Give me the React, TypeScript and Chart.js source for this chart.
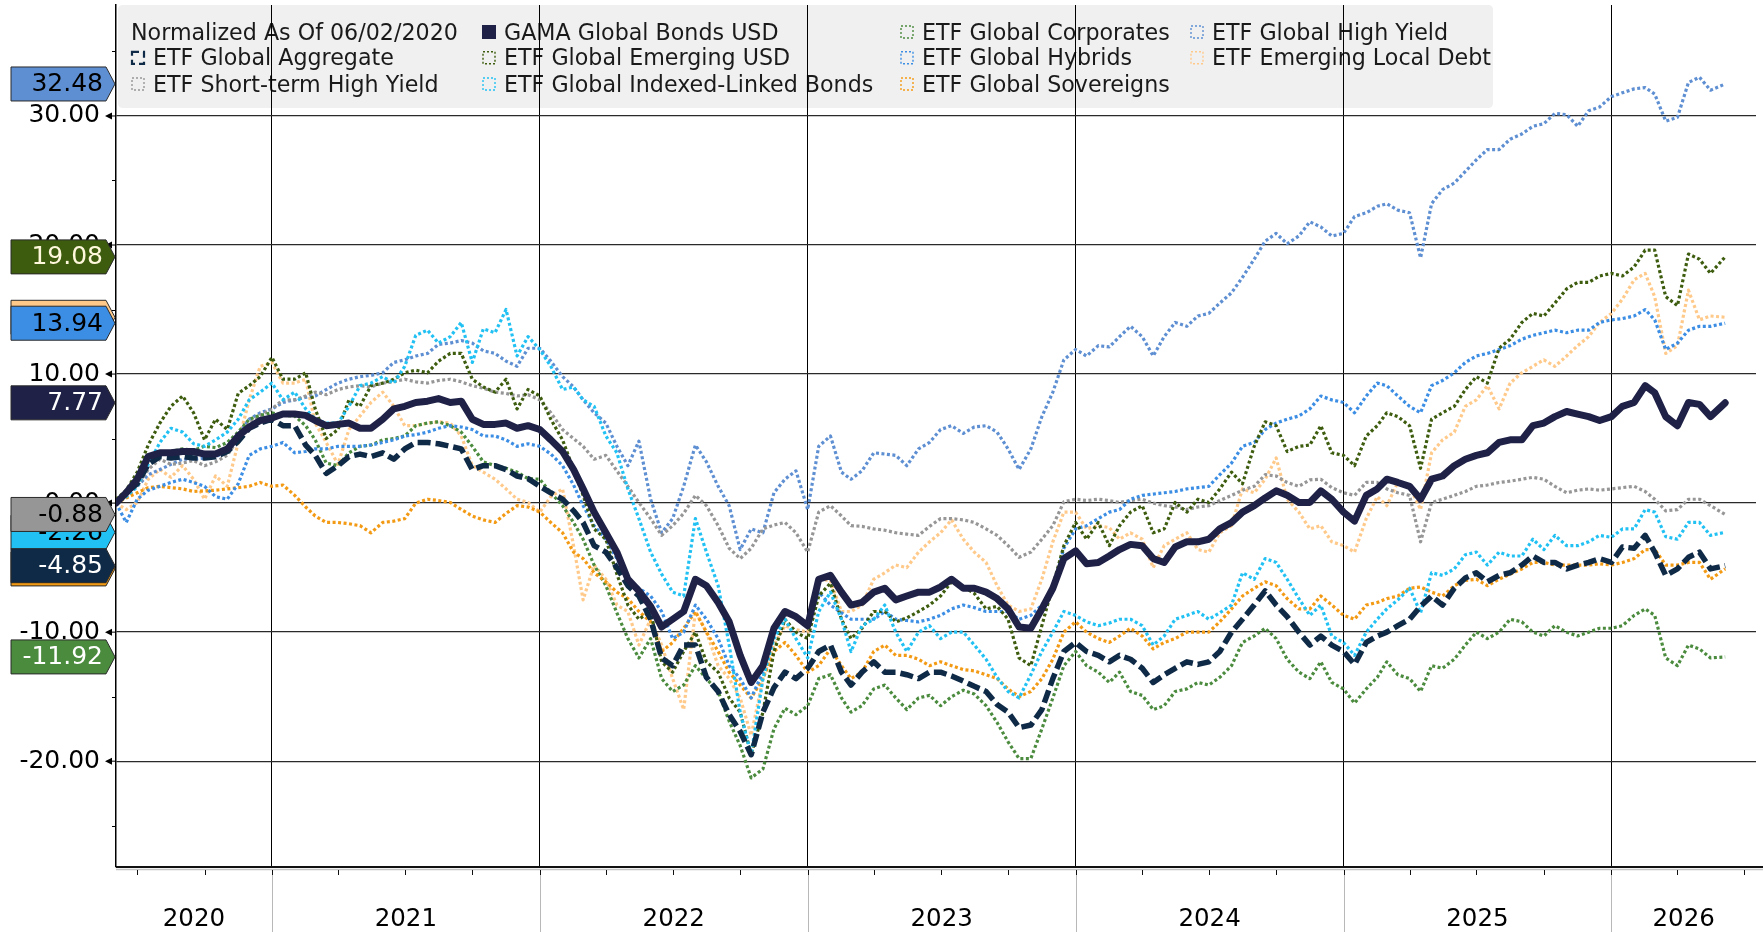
import React, { useEffect, useRef } from "react";
import { Chart, registerables } from "chart.js";
Chart.register(...registerables);

// ---------- categories (dates, semi-monthly) ----------
const DATES = [
  "2020-06-02","2020-06-16","2020-07-01","2020-07-16","2020-08-01","2020-08-16","2020-09-01","2020-09-16","2020-10-01","2020-10-16","2020-11-01","2020-11-16","2020-12-01","2020-12-16",
  "2021-01-01","2021-01-16","2021-02-01","2021-02-16","2021-03-01","2021-03-16","2021-04-01","2021-04-16","2021-05-01","2021-05-16","2021-06-01","2021-06-16","2021-07-01","2021-07-16","2021-08-01","2021-08-16","2021-09-01","2021-09-16","2021-10-01","2021-10-16","2021-11-01","2021-11-16","2021-12-01","2021-12-16",
  "2022-01-01","2022-01-16","2022-02-01","2022-02-16","2022-03-01","2022-03-16","2022-04-01","2022-04-16","2022-05-01","2022-05-16","2022-06-01","2022-06-16","2022-07-01","2022-07-16","2022-08-01","2022-08-16","2022-09-01","2022-09-16","2022-10-01","2022-10-16","2022-11-01","2022-11-16","2022-12-01","2022-12-16",
  "2023-01-01","2023-01-16","2023-02-01","2023-02-16","2023-03-01","2023-03-16","2023-04-01","2023-04-16","2023-05-01","2023-05-16","2023-06-01","2023-06-16","2023-07-01","2023-07-16","2023-08-01","2023-08-16","2023-09-01","2023-09-16","2023-10-01","2023-10-16","2023-11-01","2023-11-16","2023-12-01","2023-12-16",
  "2024-01-01","2024-01-16","2024-02-01","2024-02-16","2024-03-01","2024-03-16","2024-04-01","2024-04-16","2024-05-01","2024-05-16","2024-06-01","2024-06-16","2024-07-01","2024-07-16","2024-08-01","2024-08-16","2024-09-01","2024-09-16","2024-10-01","2024-10-16","2024-11-01","2024-11-16","2024-12-01","2024-12-16",
  "2025-01-01","2025-01-16","2025-02-01","2025-02-16","2025-03-01","2025-03-16","2025-04-01","2025-04-16","2025-05-01","2025-05-16","2025-06-01","2025-06-16","2025-07-01","2025-07-16","2025-08-01","2025-08-16","2025-09-01","2025-09-16","2025-10-01","2025-10-16","2025-11-01","2025-11-16","2025-12-01","2025-12-16",
  "2026-01-01","2026-01-16","2026-02-01","2026-02-16","2026-03-01","2026-03-16","2026-04-01","2026-04-16","2026-05-01","2026-05-16","2026-06-05",
];
const X_AXIS_END = "2026-07-17";

// ---------- series values (normalized, %) ----------
const GAMA = [
  0.0, 0.8, 1.85, 3.6, 3.9, 3.9, 4.0, 4.0, 3.8, 3.8, 4.2, 5.2, 5.9, 6.4,
  6.6, 6.9, 6.9, 6.8, 6.4, 6.0, 6.1, 6.2, 5.8, 5.8, 6.5, 7.3, 7.5, 7.8, 7.9, 8.1, 7.8, 7.9, 6.5, 6.1, 6.1, 6.2, 5.8, 6.0,
  5.7, 4.9, 4.0, 2.6, 1.1, -0.7, -2.3, -3.8, -5.9, -6.8, -8.0, -9.6, -9.0, -8.4, -5.9, -6.4, -7.7, -9.2, -11.8, -13.9, -12.6, -9.7, -8.4, -8.8,
  -9.5, -5.9, -5.6, -6.9, -7.9, -7.7, -6.9, -6.6, -7.5, -7.2, -6.9, -6.9, -6.5, -5.9, -6.6, -6.6, -6.9, -7.4, -8.2, -9.6, -9.7, -8.2, -6.6, -4.3,
  -3.7, -4.7, -4.6, -4.1, -3.6, -3.2, -3.3, -4.3, -4.6, -3.4, -3.0, -3.0, -2.8, -2.0, -1.5, -0.7, -0.2, 0.4, 0.95, 0.6, 0.05, 0.05, 0.95, 0.3,
  -0.7, -1.4, 0.6, 1.1, 1.85, 1.6, 1.3, 0.3, 1.85, 2.1, 2.9, 3.4, 3.7, 3.9, 4.7, 4.9, 4.9, 6.0, 6.2, 6.7, 7.1, 6.9, 6.7, 6.4,
  6.7, 7.5, 7.8, 9.1, 8.55, 6.7, 6.0, 7.8, 7.65, 6.7, 7.77,
];
const AGGREGATE = [
  0.0, 0.8, 1.5, 3.0, 3.6, 3.5, 3.6, 3.5, 3.5, 3.6, 4.0, 4.8, 5.8, 6.2,
  6.5, 6.0, 6.0, 4.5, 3.7, 2.3, 2.9, 3.6, 3.8, 3.6, 3.9, 3.4, 4.2, 4.7, 4.7, 4.6, 4.4, 4.2, 2.6, 2.9, 2.9, 2.6, 2.1, 1.9,
  1.3, 0.8, 0.3, -0.6, -1.5, -3.3, -3.8, -5.0, -6.4, -7.2, -9.0, -12.0, -12.6, -11.0, -11.0, -13.5, -14.6, -16.4, -17.7, -19.5, -16.2, -14.3, -13.1, -13.6,
  -12.8, -11.5, -11.0, -13.1, -14.1, -13.1, -12.3, -13.1, -13.1, -13.3, -13.6, -13.1, -13.1, -13.4, -13.8, -14.2, -14.6, -15.6, -16.2, -17.4, -17.2, -16.0, -13.6, -11.5,
  -10.8, -11.5, -11.8, -12.3, -11.8, -12.1, -12.8, -13.9, -13.3, -12.8, -12.3, -12.5, -12.3, -11.5, -10.0, -9.0, -7.9, -6.8, -7.9, -8.8, -10.0, -11.0, -10.3, -11.0,
  -11.5, -12.5, -10.8, -10.3, -10.0, -9.5, -9.0, -8.0, -7.2, -7.9, -6.6, -5.8, -5.4, -6.1, -5.6, -5.4, -4.8, -4.1, -4.6, -4.6, -5.1, -4.8, -4.6, -4.3,
  -4.6, -3.4, -3.5, -2.5, -3.8, -5.6, -5.1, -4.2, -3.8, -5.1, -4.85,
];
const SHORT_TERM_HY = [
  0.0, 0.5, 1.3, 2.6, 3.4, 3.0, 3.1, 3.3, 2.9, 3.2, 3.7, 5.0, 6.2, 6.8,
  7.3, 8.0, 8.0, 8.3, 8.6, 8.4, 8.8, 9.0, 9.1, 9.0, 9.3, 9.4, 9.6, 9.4, 9.3, 9.5, 9.6, 9.4, 9.1, 8.9, 8.6, 8.5, 8.3, 8.4,
  8.0, 7.0, 5.7, 5.0, 4.4, 3.4, 3.7, 2.5, 1.3, 0.05, -1.2, -2.5, -1.75, -0.8, 0.6, -0.2, -1.75, -3.5, -4.3, -3.5, -2.0, -1.7, -1.5, -2.3,
  -3.8, -0.7, -0.2, -1.0, -1.75, -1.8, -2.0, -2.1, -2.3, -2.4, -2.5, -1.8, -1.2, -1.2, -1.3, -1.5, -2.0, -2.5, -3.3, -4.2, -3.8, -2.8, -1.75, 0.1,
  0.3, 0.2, 0.3, 0.2, 0.05, 0.2, 0.3, 0.0, -0.2, -0.3, -0.5, -0.3, -0.2, 0.2, 0.6, 1.0, 1.3, 2.2, 2.1, 1.6, 1.3, 1.8, 1.85, 1.2,
  0.8, 0.6, 1.6, 1.6, 1.1, 0.8, 0.6, -3.0, 0.05, 0.3, 0.6, 0.9, 1.3, 1.4, 1.6, 1.7, 1.85, 2.0, 1.85, 1.3, 0.8, 1.0, 1.1, 1.0,
  1.1, 1.2, 1.3, 0.9, 0.3, -0.6, -0.5, 0.3, 0.3, -0.2, -0.88,
];
const EMERGING_USD = [
  0.3, 1.0, 2.4, 4.5, 6.2, 7.5, 8.3, 7.0, 4.9, 6.5, 5.7, 8.5, 9.1, 9.8,
  11.3, 9.6, 9.6, 10.1, 7.3, 5.0, 5.7, 8.0, 7.5, 9.1, 9.3, 9.6, 10.1, 10.3, 10.1, 11.0, 11.6, 11.6, 9.6, 9.0, 8.6, 9.6, 7.3, 8.8,
  8.3, 6.5, 4.9, 2.6, 0.6, -2.0, -2.8, -5.5, -7.9, -9.0, -8.4, -12.3, -13.1, -11.5, -10.0, -12.3, -13.1, -15.1, -16.2, -19.5, -16.2, -11.5, -9.0, -10.0,
  -10.5, -7.2, -6.2, -9.0, -10.5, -9.7, -8.4, -8.4, -9.2, -8.9, -8.4, -7.9, -7.2, -6.1, -6.5, -7.0, -8.2, -8.0, -9.0, -12.0, -12.6, -9.5, -6.4, -3.3,
  -1.5, -2.8, -1.5, -3.3, -1.75, -0.7, -0.2, -2.3, -2.0, 0.05, -0.7, 0.3, 0.05, 1.1, 2.4, 1.5, 4.4, 6.3, 6.0, 4.0, 4.4, 4.5, 6.0, 3.9,
  3.7, 2.9, 5.2, 6.0, 7.0, 6.7, 6.0, 2.7, 6.5, 7.0, 7.5, 8.8, 9.8, 9.3, 12.0, 12.7, 14.0, 14.7, 14.5, 15.5, 16.6, 17.1, 17.1, 17.6,
  17.8, 17.6, 18.3, 19.6, 19.6, 16.0, 15.3, 19.3, 18.9, 17.8, 19.08,
];
const INDEXED_LINKED = [
  0.0, 0.5, 1.3, 3.0, 4.7, 5.8, 5.5, 4.6, 4.4, 4.9, 5.5, 6.5, 8.0, 8.6,
  9.3, 8.0, 8.6, 7.3, 6.5, 6.2, 6.2, 7.5, 9.1, 9.3, 9.8, 9.3, 10.6, 13.0, 13.4, 12.4, 12.9, 14.0, 10.9, 13.5, 13.2, 15.0, 11.4, 12.9,
  11.9, 10.6, 8.8, 9.0, 8.0, 7.5, 5.2, 3.9, 1.1, -1.2, -3.8, -5.5, -6.9, -7.2, -1.2, -3.8, -6.4, -11.0, -16.2, -19.5, -13.6, -10.5, -9.0, -10.5,
  -12.0, -8.4, -6.9, -9.0, -11.5, -9.5, -9.0, -7.9, -10.0, -11.5, -10.0, -9.5, -10.5, -10.0, -10.0, -11.0, -12.1, -13.5, -14.6, -15.1, -13.3, -11.5, -10.0, -8.4,
  -8.7, -9.2, -9.5, -9.3, -9.0, -9.0, -9.5, -11.0, -10.3, -9.0, -8.7, -8.4, -9.0, -8.5, -7.9, -5.4, -5.9, -4.3, -4.6, -5.9, -7.4, -8.7, -7.9, -10.3,
  -10.8, -11.8, -10.0, -9.0, -8.2, -7.5, -6.6, -8.5, -5.4, -5.6, -5.1, -4.0, -3.8, -4.8, -3.8, -4.1, -4.1, -2.8, -3.6, -2.5, -3.3, -3.3, -3.0, -2.5,
  -2.65, -2.0, -2.0, -0.5, -0.7, -2.6, -2.8, -1.5, -1.5, -2.5, -2.26,
];
const CORPORATES = [
  0.0, 0.8, 2.1, 3.2, 3.9, 4.0, 4.2, 4.1, 4.4, 4.3, 4.7, 5.5, 6.5, 6.8,
  7.0, 6.8, 6.75, 6.0, 4.9, 3.1, 2.9, 3.9, 4.4, 4.5, 4.9, 5.0, 5.2, 6.0, 6.2, 6.3, 6.0, 5.5, 4.4, 3.2, 2.9, 2.7, 2.4, 1.9,
  1.85, 0.8, -0.2, -1.5, -2.8, -4.8, -6.4, -8.5, -10.5, -12.0, -10.5, -13.6, -14.6, -14.1, -12.6, -13.6, -14.6, -16.9, -18.8, -21.3, -20.6, -17.5, -15.9, -16.4,
  -15.7, -13.6, -13.3, -15.1, -16.2, -15.7, -14.4, -14.1, -15.1, -16.0, -15.1, -14.9, -15.7, -15.0, -14.5, -14.8, -15.7, -17.0, -18.5, -19.8, -19.8, -17.5, -15.1, -12.6,
  -11.5, -12.6, -13.1, -13.9, -13.1, -14.6, -14.9, -16.0, -15.7, -14.6, -14.4, -13.9, -14.1, -13.5, -12.6, -10.8, -10.3, -9.7, -10.5, -12.1, -13.1, -13.6, -12.3, -13.9,
  -14.4, -15.5, -14.4, -13.5, -12.3, -13.3, -13.6, -14.6, -12.6, -12.8, -12.1, -11.0, -10.0, -10.5, -10.0, -9.0, -9.2, -10.0, -10.3, -9.5, -10.0, -10.3, -10.0, -9.7,
  -9.7, -9.5, -8.7, -8.2, -8.7, -12.0, -12.6, -11.0, -11.3, -12.0, -11.92,
];
const HYBRIDS = [
  0.0, -1.5, 0.3, 1.0, 1.3, 1.6, 1.85, 1.6, 1.3, 0.5, 0.3, 1.5, 3.7, 4.2,
  4.4, 4.7, 3.9, 4.0, 4.2, 4.2, 4.4, 4.4, 4.4, 4.5, 4.7, 4.9, 5.2, 5.3, 5.5, 5.8, 6.0, 5.9, 5.7, 5.2, 5.2, 4.9, 4.4, 4.6,
  4.4, 3.8, 2.9, 1.4, -0.2, -1.75, -2.8, -4.3, -5.9, -6.6, -7.2, -8.4, -10.5, -10.0, -7.9, -9.0, -10.5, -12.6, -13.6, -15.1, -13.1, -10.0, -8.4, -8.8,
  -9.5, -6.9, -7.9, -8.5, -9.0, -9.0, -9.0, -8.4, -9.0, -9.1, -9.2, -9.0, -8.7, -8.2, -7.9, -8.1, -8.4, -8.4, -8.4, -9.0, -8.7, -7.9, -6.6, -3.5,
  -2.0, -1.75, -1.2, -0.7, -0.5, 0.3, 0.6, 0.7, 0.8, 0.9, 1.1, 1.2, 1.3, 2.2, 3.1, 4.4, 4.7, 5.7, 6.2, 6.5, 6.75, 7.3, 8.3, 8.0,
  7.8, 7.0, 8.3, 9.3, 9.1, 8.3, 7.5, 7.0, 9.1, 9.5, 10.1, 10.9, 11.4, 11.6, 11.9, 12.2, 12.7, 13.0, 13.2, 13.4, 13.2, 13.4, 13.4, 14.0,
  14.2, 14.3, 14.5, 15.0, 14.2, 11.9, 12.4, 13.4, 13.7, 13.7, 13.94,
];
const SOVEREIGNS = [
  0.0, 0.4, 0.8, 1.2, 1.3, 1.2, 1.1, 0.9, 0.95, 1.0, 1.1, 1.2, 1.3, 1.6,
  1.3, 1.4, 0.6, -0.3, -1.0, -1.5, -1.5, -1.6, -1.75, -2.3, -1.5, -1.4, -1.2, 0.0, 0.3, 0.2, 0.05, -0.5, -1.0, -1.3, -1.5, -0.8, -0.2, -0.3,
  -0.7, -1.5, -2.3, -3.8, -4.3, -5.4, -6.1, -6.9, -7.4, -8.4, -9.2, -11.5, -10.8, -9.7, -8.4, -10.0, -11.5, -13.1, -14.1, -15.1, -13.6, -11.5, -10.8, -11.8,
  -13.1, -12.6, -11.3, -12.6, -13.6, -13.1, -11.5, -11.0, -11.8, -11.8, -12.1, -12.6, -12.3, -12.6, -12.9, -13.0, -13.3, -13.6, -14.4, -15.0, -14.6, -13.6, -12.1, -10.0,
  -9.2, -10.0, -10.5, -10.8, -10.3, -9.7, -10.3, -11.3, -10.8, -10.5, -10.0, -10.0, -10.0, -9.2, -8.2, -7.2, -6.6, -6.1, -6.4, -7.4, -8.2, -8.2, -7.2, -7.9,
  -8.7, -9.0, -7.9, -7.7, -7.4, -7.2, -6.6, -6.5, -6.9, -7.2, -6.4, -6.0, -5.9, -6.4, -5.9, -5.5, -5.1, -4.6, -4.6, -4.8, -4.8, -4.8, -4.8, -4.7,
  -4.8, -4.6, -4.3, -3.6, -3.6, -4.8, -4.8, -4.6, -4.6, -5.9, -5.1,
];
const HIGH_YIELD = [
  0.0, 0.5, 1.3, 2.2, 2.6, 3.0, 3.4, 3.4, 3.5, 3.6, 4.0, 5.3, 6.5, 7.0,
  7.3, 7.8, 8.0, 8.2, 8.3, 8.8, 9.3, 9.6, 9.8, 9.9, 10.1, 10.9, 11.1, 11.4, 11.6, 12.3, 12.4, 12.6, 12.4, 11.8, 11.6, 11.0, 10.6, 12.0,
  12.0, 11.0, 9.8, 9.0, 8.0, 7.0, 6.2, 4.4, 2.9, 4.8, 0.3, -2.3, -1.2, 1.3, 4.5, 3.2, 1.3, -0.2, -3.6, -2.0, -2.3, 0.8, 1.85, 2.5,
  -0.5, 4.4, 5.2, 2.4, 1.85, 2.5, 3.9, 3.8, 3.7, 2.9, 4.2, 4.7, 5.7, 6.0, 5.4, 5.9, 6.0, 5.5, 4.2, 2.6, 4.2, 6.7, 8.6, 11.1,
  11.9, 11.4, 12.2, 12.1, 12.9, 13.7, 12.9, 11.4, 12.9, 14.0, 13.7, 14.5, 14.7, 15.5, 16.3, 17.5, 18.9, 20.3, 20.9, 20.1, 20.7, 21.8, 21.4, 20.7,
  20.9, 22.2, 22.5, 23.0, 23.2, 22.7, 22.5, 19.0, 23.2, 24.3, 24.8, 25.7, 26.6, 27.4, 27.4, 28.2, 28.6, 29.2, 29.4, 30.2, 30.1, 29.2, 30.4, 30.7,
  31.5, 31.8, 32.1, 32.2, 31.7, 29.6, 29.9, 32.6, 33.0, 32.0, 32.48,
];
const EM_LOCAL_DEBT = [
  0.0, -0.5, 0.05, 1.85, 2.6, 2.0, 2.9, 1.85, 0.3, 2.1, 1.3, 4.7, 8.0, 10.6,
  10.9, 9.3, 9.3, 9.6, 6.2, 4.7, 3.0, 5.7, 6.75, 7.8, 8.6, 7.5, 6.0, 6.0, 6.2, 6.3, 6.2, 5.2, 2.9, 2.4, 1.85, 1.1, 0.3, 0.05,
  -0.7, 0.5, 1.1, -3.3, -7.5, -4.8, -5.9, -7.9, -8.4, -11.0, -9.0, -11.0, -13.6, -16.0, -8.4, -10.0, -12.6, -13.6, -15.1, -18.0, -13.6, -11.0, -9.5, -9.8,
  -10.0, -5.9, -6.0, -8.4, -8.4, -7.9, -5.9, -5.4, -4.8, -5.0, -3.8, -3.0, -2.3, -1.3, -2.8, -3.8, -4.6, -6.4, -7.9, -8.4, -8.2, -5.9, -3.0, -0.7,
  -0.7, -2.0, -1.75, -1.9, -2.8, -2.3, -2.8, -5.0, -3.3, -2.8, -2.3, -3.6, -3.8, -2.3, -1.75, 1.1, 0.8, 1.85, 3.5, 0.3, -0.7, -2.0, -1.75, -3.0,
  -3.3, -3.8, -1.2, 0.5, -0.2, 1.6, 1.3, -0.5, 3.9, 4.9, 5.5, 7.5, 8.0, 9.1, 7.3, 9.3, 10.1, 10.6, 11.1, 10.6, 11.4, 12.2, 12.9, 14.0,
  14.7, 15.8, 17.3, 17.8, 16.0, 11.6, 12.2, 16.5, 14.2, 14.5, 14.4,
];

// ---------- axis tick labels ----------
const LEGEND_HEADER = "Normalized As Of 06/02/2020";
const YEAR_LABELS = ["2020", "2021", "2022", "2023", "2024", "2025", "2026"];
const YEAR_BOUNDARIES = [2021, 2022, 2023, 2024, 2025, 2026];
const Y_MAJOR = [-20, -10, 0, 10, 20, 30];
const Y_MINOR = [-25, -15, -5, 5, 15, 25, 35];
const Y_MIN = -28.2;
const Y_MAX = 38.6;

function toX(s: string): number {
  const [y, m, d] = s.split("-").map(Number);
  const a = Date.UTC(y, 0, 1);
  const b = Date.UTC(y + 1, 0, 1);
  return y + (Date.UTC(y, m - 1, d) - a) / (b - a);
}

type S = {
  name: string; data: number[]; color: string; width: number; dash: number[];
  kind: "solid" | "dash" | "dot"; tagText: string; tagShowText: boolean;
};

const DOT = [3, 2.5];
const SERIES: Record<string, S> = {
  GAMA: { name: "GAMA Global Bonds USD", data: GAMA, color: "#1f2147", width: 7, dash: [], kind: "solid", tagText: "#ffffff", tagShowText: true },
  AGG: { name: "ETF Global Aggregate", data: AGGREGATE, color: "#0f2a47", width: 5.5, dash: [13, 5], kind: "dash", tagText: "#ffffff", tagShowText: true },
  STHY: { name: "ETF Short-term High Yield", data: SHORT_TERM_HY, color: "#969696", width: 3.2, dash: DOT, kind: "dot", tagText: "#000000", tagShowText: true },
  EMUSD: { name: "ETF Global Emerging USD", data: EMERGING_USD, color: "#3d5c0e", width: 3.2, dash: DOT, kind: "dot", tagText: "#fff8dc", tagShowText: true },
  IL: { name: "ETF Global Indexed-Linked Bonds", data: INDEXED_LINKED, color: "#22c1f3", width: 3.2, dash: DOT, kind: "dot", tagText: "#000000", tagShowText: true },
  CORP: { name: "ETF Global Corporates", data: CORPORATES, color: "#4b8b3e", width: 3.2, dash: DOT, kind: "dot", tagText: "#ffffff", tagShowText: true },
  HYB: { name: "ETF Global Hybrids", data: HYBRIDS, color: "#3c8ee4", width: 3.2, dash: DOT, kind: "dot", tagText: "#000000", tagShowText: true },
  SOV: { name: "ETF Global Sovereigns", data: SOVEREIGNS, color: "#f39a14", width: 3.2, dash: DOT, kind: "dot", tagText: "#000000", tagShowText: false },
  HY: { name: "ETF Global High Yield", data: HIGH_YIELD, color: "#5e8fd2", width: 3.2, dash: DOT, kind: "dot", tagText: "#000000", tagShowText: true },
  EMLD: { name: "ETF Emerging Local Debt", data: EM_LOCAL_DEBT, color: "#ffc98a", width: 3.2, dash: DOT, kind: "dot", tagText: "#000000", tagShowText: false },
};

// drawing order: first = on top
const DRAW_ORDER = ["GAMA", "AGG", "IL", "EMUSD", "HYB", "SOV", "CORP", "STHY", "HY", "EMLD"];
// tags painted in this order (later covers earlier)
const TAG_ORDER = ["HY", "EMLD", "HYB", "EMUSD", "GAMA", "IL", "STHY", "SOV", "AGG", "CORP"];
// legend grid: [key, col, row]
const LEGEND_SLOTS: [string, number, number][] = [
  ["GAMA", 1, 0], ["CORP", 2, 0], ["HY", 3, 0],
  ["AGG", 0, 1], ["EMUSD", 1, 1], ["HYB", 2, 1], ["EMLD", 3, 1],
  ["STHY", 0, 2], ["IL", 1, 2], ["SOV", 2, 2],
];
const LEG_COL_X = [131, 482, 900, 1190];
const LEG_ROW_Y = [39.5, 65.3, 91.5];

const FONT = '"DejaVu Sans", "Noto Sans", sans-serif';

function roundRect(ctx: CanvasRenderingContext2D, x: number, y: number, w: number, h: number, r: number) {
  ctx.beginPath();
  ctx.moveTo(x + r, y);
  ctx.lineTo(x + w - r, y);
  ctx.quadraticCurveTo(x + w, y, x + w, y + r);
  ctx.lineTo(x + w, y + h - r);
  ctx.quadraticCurveTo(x + w, y + h, x + w - r, y + h);
  ctx.lineTo(x + r, y + h);
  ctx.quadraticCurveTo(x, y + h, x, y + h - r);
  ctx.lineTo(x, y + r);
  ctx.quadraticCurveTo(x, y, x + r, y);
  ctx.closePath();
}

const legendPlugin = {
  id: "bbgLegend",
  beforeDraw(chart: any) {
    const ctx: CanvasRenderingContext2D = chart.ctx;
    ctx.save();
    ctx.fillStyle = "#ffffff";
    ctx.fillRect(0, 0, chart.width, chart.height);
    ctx.fillStyle = "#f0f0f0";
    roundRect(ctx, 118, 5, 1375, 103, 5);
    ctx.fill();
    ctx.font = `22.2px ${FONT}`;
    ctx.textBaseline = "alphabetic";
    ctx.textAlign = "left";
    ctx.fillStyle = "#1a1a1a";
    ctx.fillText(LEGEND_HEADER, 131, LEG_ROW_Y[0]);
    for (const [key, col, row] of LEGEND_SLOTS) {
      const s = SERIES[key];
      const mx = LEG_COL_X[col];
      const base = LEG_ROW_Y[row];
      const top = base - 14.5;
      if (s.kind === "solid") {
        ctx.fillStyle = s.color;
        ctx.fillRect(mx, top, 14, 14);
      } else {
        ctx.strokeStyle = s.color;
        ctx.lineWidth = s.kind === "dash" ? 2.2 : 1.4;
        ctx.setLineDash(s.kind === "dash" ? [7, 4] : [2, 2]);
        ctx.strokeRect(mx + 1, top + 1, 12, 12);
        ctx.setLineDash([]);
      }
      ctx.fillStyle = "#1a1a1a";
      ctx.fillText(s.name, mx + 22, base);
    }
    ctx.restore();
  },
};

const decorPlugin = {
  id: "bbgDecor",
  afterDraw(chart: any) {
    const ctx: CanvasRenderingContext2D = chart.ctx;
    const area = chart.chartArea;
    const xs = chart.scales.x;
    const ys = chart.scales.y;
    ctx.save();
    // x axis double line
    ctx.strokeStyle = "#111";
    ctx.lineWidth = 2;
    ctx.beginPath();
    ctx.moveTo(area.left, area.bottom);
    ctx.lineTo(area.right + 7, area.bottom);
    ctx.stroke();
    ctx.strokeStyle = "#c4c4c4";
    ctx.lineWidth = 1.5;
    ctx.beginPath();
    ctx.moveTo(area.left, area.bottom + 2.5);
    ctx.lineTo(area.right + 7, area.bottom + 2.5);
    ctx.stroke();
    // year separators below axis
    ctx.strokeStyle = "#b8b8b8";
    ctx.lineWidth = 1;
    for (const yr of YEAR_BOUNDARIES) {
      const px = Math.round(xs.getPixelForValue(yr)) + 0.5;
      ctx.beginPath();
      ctx.moveTo(px, area.bottom + 3);
      ctx.lineTo(px, chart.height);
      ctx.stroke();
    }
    // quarter ticks
    ctx.strokeStyle = "#111";
    ctx.lineWidth = 1;
    for (let y = 2020; y <= 2026; y++) {
      for (const mm of ["01", "04", "07", "10"]) {
        const v = toX(`${y}-${mm}-01`);
        if (v <= xs.min || v >= xs.max) continue;
        const px = Math.round(xs.getPixelForValue(v)) + 0.5;
        ctx.beginPath();
        ctx.moveTo(px, area.bottom + 3);
        ctx.lineTo(px, area.bottom + 8);
        ctx.stroke();
      }
    }
    // year labels centred in each visible year span
    ctx.font = `24.5px ${FONT}`;
    ctx.fillStyle = "#000";
    ctx.textAlign = "center";
    ctx.textBaseline = "middle";
    const bounds = [xs.min, ...YEAR_BOUNDARIES, xs.max];
    YEAR_LABELS.forEach((lab, i) => {
      const a = xs.getPixelForValue(bounds[i]);
      const b = xs.getPixelForValue(bounds[i + 1]);
      ctx.fillText(lab, (a + b) / 2, 920);
    });
    // y-axis tick marks
    ctx.fillStyle = "#000";
    ctx.strokeStyle = "#000";
    for (const v of Y_MAJOR) {
      const py = ys.getPixelForValue(v);
      ctx.beginPath();
      ctx.moveTo(area.left - 11, py);
      ctx.lineTo(area.left - 4, py - 3.5);
      ctx.lineTo(area.left - 4, py + 3.5);
      ctx.closePath();
      ctx.fill();
      ctx.beginPath();
      ctx.moveTo(area.left - 5, py);
      ctx.lineTo(area.left, py);
      ctx.stroke();
    }
    for (const v of Y_MINOR) {
      if (v < Y_MIN || v > Y_MAX) continue;
      const py = Math.round(ys.getPixelForValue(v)) + 0.5;
      ctx.beginPath();
      ctx.moveTo(area.left - 4, py);
      ctx.lineTo(area.left, py);
      ctx.stroke();
    }
    // last-value tags
    for (const key of TAG_ORDER) {
      const s = SERIES[key];
      const last = s.data[s.data.length - 1];
      const py = ys.getPixelForValue(last);
      const L = 11, R = 106, T = area.left - 1, h = 17;
      ctx.beginPath();
      ctx.moveTo(L, py - h);
      ctx.lineTo(R, py - h);
      ctx.lineTo(T, py);
      ctx.lineTo(R, py + h);
      ctx.lineTo(L, py + h);
      ctx.closePath();
      ctx.fillStyle = s.color;
      ctx.fill();
      ctx.strokeStyle = "#2a2a2a";
      ctx.lineWidth = 1;
      ctx.stroke();
      if (s.tagShowText) {
        ctx.font = `25px ${FONT}`;
        ctx.textAlign = "right";
        ctx.textBaseline = "middle";
        ctx.fillStyle = s.tagText;
        ctx.fillText(last.toFixed(2), 103, py + 1);
      }
    }
    ctx.restore();
  },
};

export default function App() {
  const ref = useRef<HTMLCanvasElement | null>(null);
  useEffect(() => {
    document.body.style.margin = "0";
    const canvas = ref.current;
    if (!canvas) return;
    const xs = DATES.map(toX);
    const datasets = DRAW_ORDER.map((key) => {
      const s = SERIES[key];
      return {
        label: s.name,
        data: xs.map((x, i) => ({ x, y: s.data[i] ?? null })),
        borderColor: s.color,
        backgroundColor: s.color,
        borderWidth: s.width,
        borderDash: s.dash,
        borderCapStyle: s.kind === "solid" ? "round" : "butt",
        borderJoinStyle: "round",
        pointRadius: 0,
        pointHoverRadius: 0,
        tension: 0,
        fill: false,
        spanGaps: true,
      };
    });
    const chart = new Chart(canvas, {
      type: "line",
      data: { datasets } as any,
      plugins: [legendPlugin, decorPlugin],
      options: {
        animation: false,
        responsive: false,
        devicePixelRatio: 1,
        parsing: false,
        normalized: true,
        events: [],
        layout: { padding: { top: 5, right: 7, left: 0, bottom: 0 } },
        plugins: { legend: { display: false }, tooltip: { enabled: false }, title: { display: false } },
        scales: {
          x: {
            type: "linear",
            min: toX(DATES[0]),
            max: toX(X_AXIS_END),
            afterBuildTicks: (scale: any) => {
              scale.ticks = YEAR_BOUNDARIES.map((v) => ({ value: v }));
            },
            afterFit: (scale: any) => {
              scale.height = 65;
              scale.paddingLeft = 0;
              scale.paddingRight = 0;
              scale.paddingTop = 0;
              scale.paddingBottom = 0;
            },
            ticks: { display: false },
            grid: { color: "#000", lineWidth: 1, drawTicks: false },
            border: { display: false },
          },
          y: {
            type: "linear",
            position: "left",
            min: Y_MIN,
            max: Y_MAX,
            afterBuildTicks: (scale: any) => {
              scale.ticks = Y_MAJOR.map((v) => ({ value: v }));
            },
            afterFit: (scale: any) => {
              scale.width = 116;
              scale.paddingTop = 0;
              scale.paddingBottom = 0;
              scale.paddingLeft = 0;
              scale.paddingRight = 0;
            },
            ticks: {
              color: "#000",
              padding: 16,
              font: { family: FONT, size: 25 },
              callback: (v: any) => Number(v).toFixed(2),
            },
            grid: { color: "#2a2a2a", lineWidth: 1.3, drawTicks: false },
            border: { display: true, color: "#000", width: 1.5 },
          },
        },
      } as any,
    });
    return () => chart.destroy();
  }, []);
  return (
    <div style={{ width: 1763, height: 932, position: "relative" }}>
      <canvas ref={ref} width={1763} height={932} style={{ width: 1763, height: 932, display: "block" }} />
    </div>
  );
}
